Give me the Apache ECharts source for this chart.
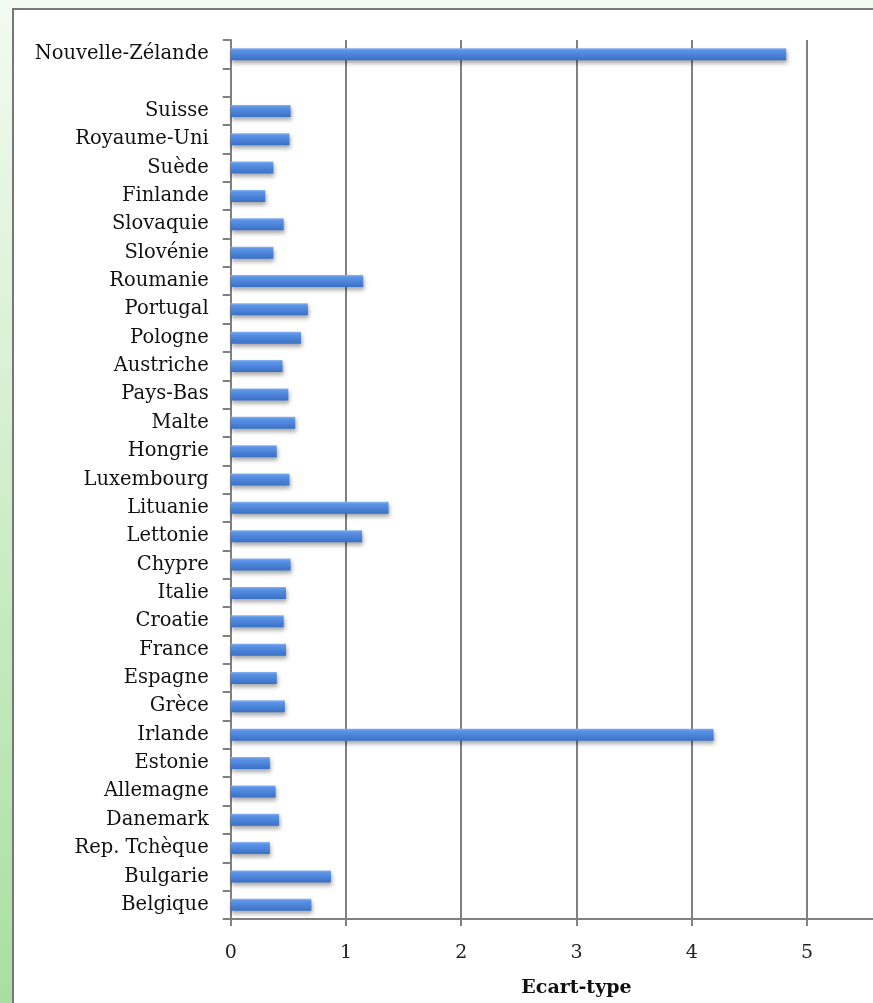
<!DOCTYPE html>
<html>
<head>
<meta charset="utf-8">
<script src="https://cdn.jsdelivr.net/npm/echarts@6/dist/echarts.min.js"></script>
<style>
html,body{margin:0;padding:0;width:873px;height:1003px;overflow:hidden;}
body{background:linear-gradient(to bottom,#f3faf1 0%,#d6f0d1 40%,#a8dfa0 100%);position:relative;}
#frame{position:absolute;left:12px;top:8px;width:1000px;height:1100px;background:#fff;border-left:2px solid #777;border-top:2px solid #777;}
#chart{position:absolute;left:0;top:0;width:1000px;height:1003px;}
</style>
</head>
<body>
<div id="frame"></div>
<div id="chart"></div>
<script>
var categories = ['Belgique','Bulgarie','Rep. Tchèque','Danemark','Allemagne','Estonie','Irlande','Grèce','Espagne','France','Croatie','Italie','Chypre','Lettonie','Lituanie','Luxembourg','Hongrie','Malte','Pays-Bas','Austriche','Pologne','Portugal','Roumanie','Slovénie','Slovaquie','Finlande','Suède','Royaume-Uni','Suisse','','Nouvelle-Zélande'];
var ecartType = [0.70,0.87,0.34,0.42,0.39,0.34,4.19,0.47,0.40,0.48,0.46,0.48,0.52,1.14,1.37,0.51,0.40,0.56,0.50,0.45,0.61,0.67,1.15,0.37,0.46,0.30,0.37,0.51,0.52,null,4.82];
var xAxisName = 'Ecart-type';

var chart = echarts.init(document.getElementById('chart'), null, {renderer:'canvas'});
var font = 'DejaVu Serif';
chart.setOption({
  backgroundColor: 'transparent',
  animation: false,
  grid: {left: 230.7, width: 691.5, top: 40, height: 883, containLabel: false},
  xAxis: {
    type: 'value', min: 0, max: 6, interval: 1,
    name: xAxisName, nameLocation: 'middle', nameGap: 60,
    nameTextStyle: {fontFamily: font, fontSize: 19, fontWeight: 'bold', color: '#111'},
    axisLine: {show: true, lineStyle: {color: '#808080', width: 2}},
    axisTick: {show: true, length: 7, lineStyle: {color: '#808080', width: 2}},
    axisLabel: {fontFamily: font, fontSize: 19, color: '#222', margin: 25},
    splitLine: {show: true, lineStyle: {color: '#808080', width: 2}}
  },
  yAxis: {
    type: 'category', data: categories,
    axisLine: {show: true, lineStyle: {color: '#808080', width: 2}},
    axisTick: {show: true, length: 8, inside: false, alignWithLabel: false, lineStyle: {color: '#808080', width: 2}},
    axisLabel: {fontFamily: font, fontSize: 19.5, color: '#111', margin: 22, interval: 0, padding: [7, 0, 0, 0]},
    splitLine: {show: false}
  },
  series: [{
    type: 'bar', data: ecartType, barWidth: 12,
    itemStyle: {
      color: new echarts.graphic.LinearGradient(0,0,0,1,[
        {offset:0,color:'#8ab4f2'},
        {offset:0.18,color:'#5b93e6'},
        {offset:1,color:'#3a71c8'}
      ]),
      shadowColor: 'rgba(0,0,0,0.35)', shadowBlur: 4, shadowOffsetX: 1, shadowOffsetY: 3
    }
  }]
});
</script>
</body>
</html>
